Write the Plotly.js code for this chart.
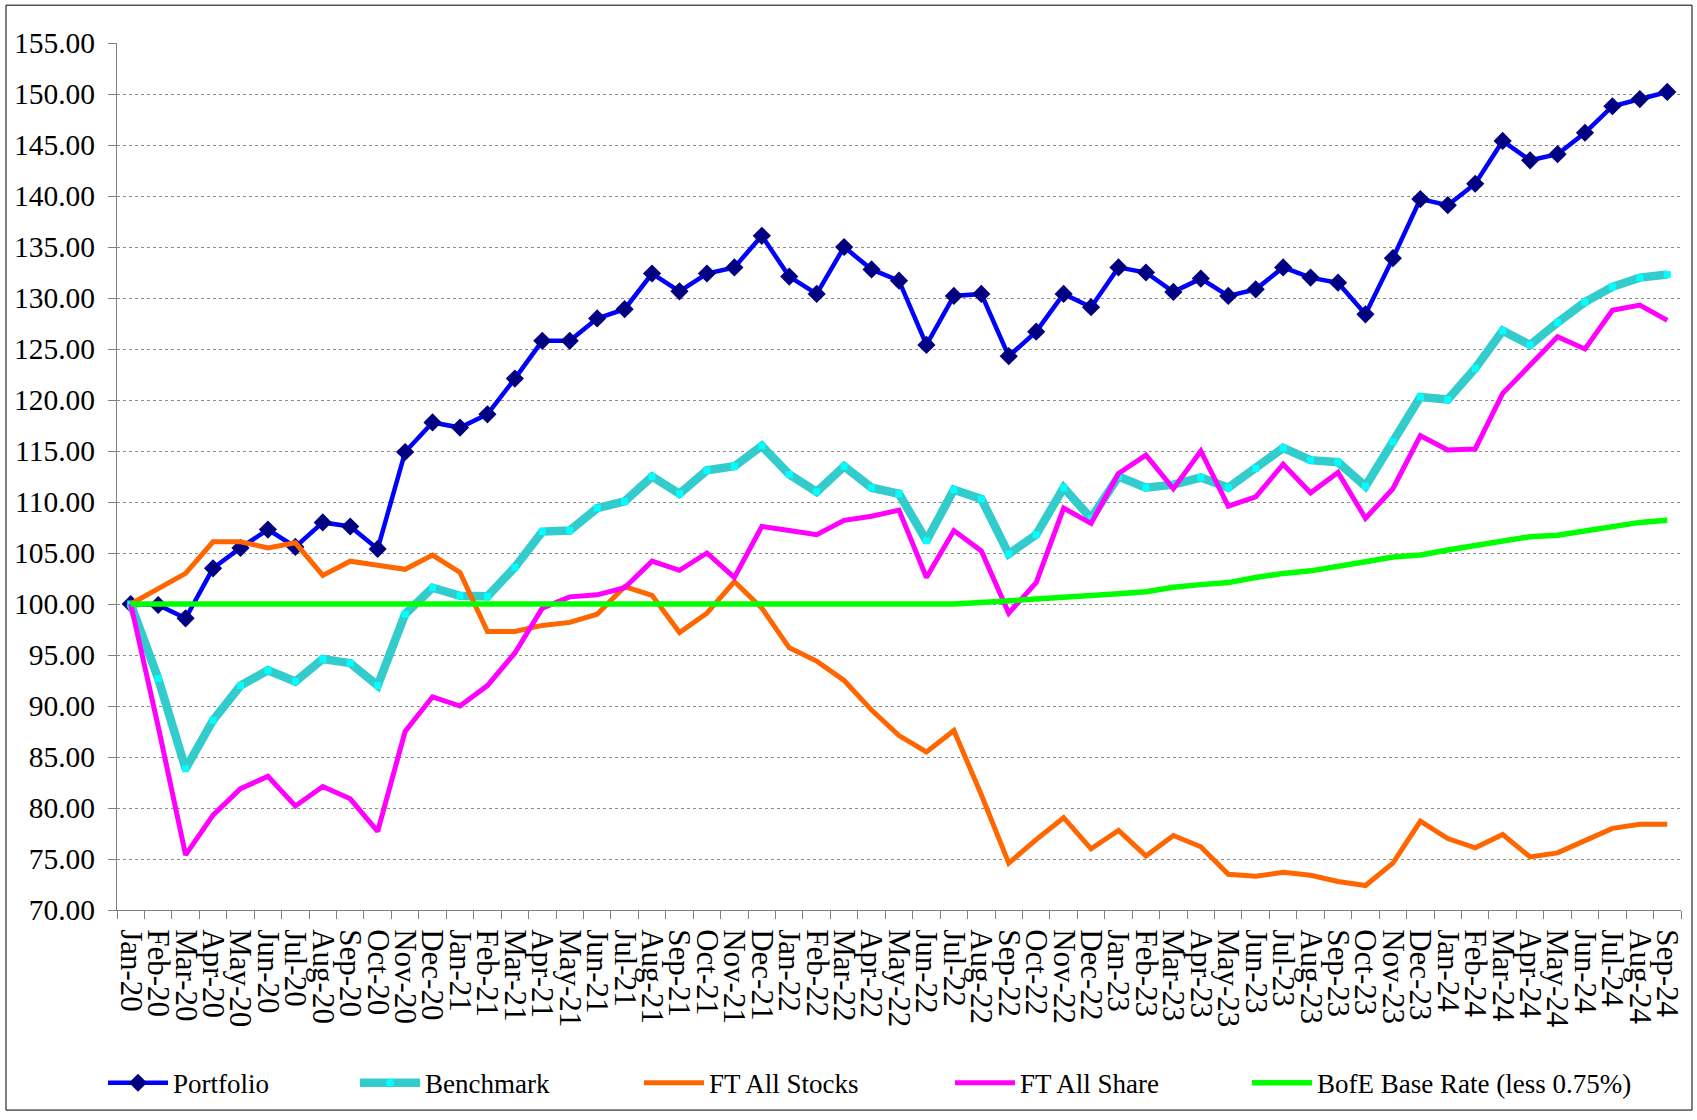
<!DOCTYPE html>
<html>
<head>
<meta charset="utf-8">
<script src="https://cdn.plot.ly/plotly-3.0.1.min.js"></script>
<style>
  html, body { margin: 0; padding: 0; background: #ffffff; }
  #chart { width: 1697px; height: 1120px; }
</style>
</head>
<body>
<div id="chart"></div>
<script>
const months = [
  "Jan-20","Feb-20","Mar-20","Apr-20","May-20","Jun-20","Jul-20","Aug-20","Sep-20","Oct-20","Nov-20","Dec-20",
  "Jan-21","Feb-21","Mar-21","Apr-21","May-21","Jun-21","Jul-21","Aug-21","Sep-21","Oct-21","Nov-21","Dec-21",
  "Jan-22","Feb-22","Mar-22","Apr-22","May-22","Jun-22","Jul-22","Aug-22","Sep-22","Oct-22","Nov-22","Dec-22",
  "Jan-23","Feb-23","Mar-23","Apr-23","May-23","Jun-23","Jul-23","Aug-23","Sep-23","Oct-23","Nov-23","Dec-23",
  "Jan-24","Feb-24","Mar-24","Apr-24","May-24","Jun-24","Jul-24","Aug-24","Sep-24"
];

const portfolio = [
  100.0, 99.9, 98.6, 103.5, 105.5, 107.3, 105.6, 108.0, 107.6, 105.4,
  114.9, 117.8, 117.3, 118.6, 122.1, 125.8, 125.8, 128.0, 128.9, 132.4,
  130.65, 132.4, 133.0, 136.1, 132.1, 130.4, 135.0, 132.8, 131.7, 125.4,
  130.2, 130.4, 124.3, 126.7, 130.4, 129.1, 133.0, 132.5, 130.6, 131.9,
  130.2, 130.85, 133.0, 132.0, 131.5, 128.4, 133.9, 139.7, 139.1, 141.2,
  145.4, 143.5, 144.1, 146.2, 148.8, 149.5, 150.2
];

const benchmark = [
  100.0, 92.7, 83.85, 88.6, 92.0, 93.5, 92.4, 94.6, 94.2, 92.0,
  99.0, 101.6, 100.8, 100.75, 103.6, 107.1, 107.2, 109.4, 110.05, 112.5,
  110.8, 113.1, 113.5, 115.5, 112.7, 111.0, 113.5, 111.4, 110.8, 106.2,
  111.2, 110.3, 104.9, 106.8, 111.4, 108.4, 112.5, 111.4, 111.7, 112.4,
  111.4, 113.3, 115.3, 114.1, 113.9, 111.55, 115.9, 120.3, 120.05, 123.1,
  126.8, 125.4, 127.6, 129.6, 131.1, 132.0, 132.3
];

const ftAllStocks = [
  100.0, 101.5, 103.0, 106.1, 106.1, 105.5, 106.0, 102.8, 104.2, 103.8,
  103.4, 104.8, 103.1, 97.3, 97.3, 97.9, 98.2, 99.0, 101.7, 100.85,
  97.2, 99.1, 102.2, 99.6, 95.7, 94.4, 92.5, 89.6, 87.1, 85.5,
  87.6, 81.3, 74.6, 76.9, 79.05, 76.0, 77.8, 75.3, 77.3, 76.2,
  73.5, 73.3, 73.7, 73.4, 72.8, 72.4, 74.6, 78.7, 77.0, 76.1,
  77.4, 75.2, 75.6, 76.8, 78.0, 78.4, 78.4
];

const ftAllShare = [
  100.0, 88.0, 75.4, 79.3, 81.9, 83.1, 80.2, 82.1, 80.9, 77.7,
  87.5, 90.9, 90.0, 92.0, 95.2, 99.6, 100.7, 100.9, 101.6, 104.2,
  103.3, 105.0, 102.6, 107.6, 107.2, 106.8, 108.2, 108.6, 109.2, 102.6,
  107.2, 105.2, 99.1, 102.1, 109.4, 107.9, 112.8, 114.6, 111.3, 115.0,
  109.6, 110.5, 113.7, 110.9, 112.9, 108.4, 111.3, 116.5, 115.1, 115.2,
  120.65, 123.5, 126.2, 125.0, 128.8, 129.3, 127.8
];

const bofeBaseRate = [
  100, 100, 100, 100, 100, 100, 100, 100, 100, 100,
  100, 100, 100, 100, 100, 100, 100, 100, 100, 100,
  100, 100, 100, 100, 100, 100, 100, 100, 100, 100,
  100, 100.15, 100.3, 100.5, 100.7, 100.85, 101.0, 101.2, 101.65, 101.9,
  102.1, 102.6, 103.0, 103.25, 103.65, 104.15, 104.6, 104.8, 105.3, 105.75,
  106.2, 106.6, 106.75, 107.15, 107.6, 108.0, 108.2
];

const seriesNames = ["Portfolio", "Benchmark", "FT All Stocks", "FT All Share", "BofE Base Rate (less 0.75%)"];

// ---- layout geometry (pixels) ----
const W = 1697, H = 1120;
const M = { l: 117, r: 16, t: 43, b: 206 };
const plotW = W - M.l - M.r, plotH = H - M.t - M.b;
const px2x = p => (p - M.l) / plotW;
const py2y = p => (H - M.b - p) / plotH;

const FONT = "'Liberation Serif', 'Times New Roman', Times, serif";

const traces = [
  {
    x: months, y: portfolio, name: seriesNames[0], type: "scatter", mode: "lines+markers",
    line: { color: "#0000FF", width: 4.5 },
    marker: { symbol: "diamond", size: 14, color: "#000080", line: { width: 0 } },
    legend: "legend"
  },
  {
    x: months, y: benchmark, name: seriesNames[1], type: "scatter", mode: "lines+markers",
    line: { color: "#33CCCC", width: 8.5 },
    marker: { symbol: "square", size: 7, color: "#00FFFF", line: { width: 0 } },
    legend: "legend2"
  },
  {
    x: months, y: ftAllStocks, name: seriesNames[2], type: "scatter", mode: "lines",
    line: { color: "#FF6600", width: 5 },
    legend: "legend3"
  },
  {
    x: months, y: ftAllShare, name: seriesNames[3], type: "scatter", mode: "lines",
    line: { color: "#FF00FF", width: 5 },
    legend: "legend4"
  },
  {
    x: months, y: bofeBaseRate, name: seriesNames[4], type: "scatter", mode: "lines",
    line: { color: "#00FF00", width: 5.5 },
    legend: "legend5"
  }
];

const legendStarts = [103, 355, 639, 950, 1247];
const legendY = py2y(1088);
function legendAt(px) {
  return {
    orientation: "h", x: px2x(px), y: legendY, xanchor: "left", yanchor: "middle",
    font: { family: FONT, size: 27, color: "#000000" },
    bgcolor: "rgba(0,0,0,0)", borderwidth: 0, itemwidth: 60
  };
}

const layout = {
  width: W, height: H,
  margin: M,
  paper_bgcolor: "#ffffff", plot_bgcolor: "#ffffff",
  font: { family: FONT, size: 27, color: "#000000" },
  showlegend: true,
  legend: legendAt(legendStarts[0]),
  legend2: legendAt(legendStarts[1]),
  legend3: legendAt(legendStarts[2]),
  legend4: legendAt(legendStarts[3]),
  legend5: legendAt(legendStarts[4]),
  xaxis: {
    type: "category",
    range: [-0.5, months.length - 0.5],
    tickmode: "linear", tick0: 0, dtick: 1,
    tickangle: 90,
    tickson: "boundaries",
    ticks: "outside", ticklen: 8, tickcolor: "#808080", tickwidth: 1,
    ticklabelstandoff: 12,
    showline: true, linecolor: "#808080", linewidth: 1,
    showgrid: false, zeroline: false,
    tickfont: { family: FONT, size: 31, color: "#000000" },
    automargin: false,
    fixedrange: true
  },
  yaxis: {
    range: [70, 155],
    dtick: 5, tick0: 70,
    tickformat: ".2f",
    ticks: "outside", ticklen: 8, tickcolor: "#808080", tickwidth: 1,
    ticklabelstandoff: 7,
    showline: true, linecolor: "#808080", linewidth: 1,
    showgrid: true, gridcolor: "#8c8c8c", gridwidth: 1, griddash: "dot",
    zeroline: false,
    tickfont: { family: FONT, size: 29.5, color: "#000000" },
    automargin: false,
    fixedrange: true
  },
  shapes: [
    {
      type: "rect", xref: "paper", yref: "paper",
      x0: px2x(6), x1: px2x(1692), y0: py2y(1115), y1: py2y(5),
      line: { color: "#000000", width: 1 }, fillcolor: "rgba(0,0,0,0)", layer: "below"
    }
  ]
};

Plotly.newPlot("chart", traces, layout, { staticPlot: true, displayModeBar: false });
</script>
</body>
</html>
